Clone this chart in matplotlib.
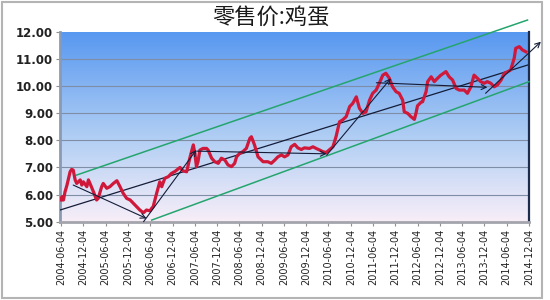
import matplotlib
matplotlib.use("Agg")
import matplotlib.pyplot as plt
import numpy as np
from matplotlib.colors import LinearSegmentedColormap
from matplotlib.patches import Rectangle

plt.rcParams['font.family'] = ['Noto Sans CJK SC', 'DejaVu Sans']

# months since 2004-06-04, retail egg price
month = [0.0, 0.21, 0.63, 1.05, 1.58, 2.42, 2.84, 3.26, 3.78, 4.2, 5.15, 5.57, 5.99, 6.93, 7.35, 7.77,
         8.72, 9.56, 9.98, 10.92, 11.34, 12.29, 13.13, 14.07, 15.02, 15.86, 16.7, 17.64, 18.59, 19.43,
         20.37, 21.21, 22.16, 23.0, 23.94, 24.36, 24.78, 25.73, 26.57, 27.09, 27.93, 28.88, 29.72, 30.66,
         32.03, 32.87, 33.81, 34.65, 35.6, 36.02, 36.44, 36.86, 37.38, 38.22, 39.17, 39.59, 40.53, 41.37,
         42.32, 43.16, 44.1, 44.94, 45.89, 46.73, 47.25, 48.09, 48.93, 49.88, 50.82, 51.24, 52.08, 53.03,
         54.39, 55.65, 56.6, 57.54, 58.38, 59.33, 60.17, 61.11, 61.95, 62.9, 63.74, 64.68, 65.52, 66.89,
         67.83, 68.67, 69.62, 70.46, 71.4, 73.19, 74.03, 74.97, 75.81, 76.76, 77.7, 78.54, 79.49, 80.33,
         81.27, 82.11, 83.06, 83.9, 84.84, 85.68, 86.63, 87.47, 88.41, 89.25, 90.2, 91.04, 91.98, 92.4,
         93.35, 94.19, 95.13, 95.55, 95.97, 96.92, 97.34, 98.28, 98.7, 99.65, 100.49, 101.33, 102.27, 103.64,
         104.48, 105.42, 106.37, 107.21, 108.57, 109.41, 110.36, 111.2, 112.14, 112.98, 113.93, 114.77,
         115.71, 116.63, 117.5, 118.49, 119.38, 120.3, 121.06, 122.01, 122.43, 123.38, 124.22, 125.16]
price = [5.80, 5.92, 5.80, 6.10, 6.35, 6.84, 6.93, 6.90, 6.54, 6.41, 6.54, 6.35, 6.47, 6.29, 6.54, 6.41,
         6.10, 5.80, 5.86, 6.29, 6.41, 6.23, 6.29, 6.41, 6.51, 6.29, 6.05, 5.86, 5.80, 5.68,
         5.55, 5.43, 5.33, 5.43, 5.40, 5.49, 5.55, 6.05, 6.47, 6.29, 6.60, 6.66, 6.78, 6.85,
         7.00, 6.87, 6.84, 7.34, 7.83, 7.52, 7.03, 7.21, 7.64, 7.70, 7.70, 7.64, 7.34, 7.21,
         7.15, 7.34, 7.27, 7.09, 7.03, 7.15, 7.39, 7.52, 7.58, 7.70, 8.07, 8.13, 7.83, 7.39,
         7.21, 7.21, 7.15, 7.27, 7.39, 7.46, 7.39, 7.46, 7.76, 7.85, 7.72, 7.66, 7.72, 7.70,
         7.76, 7.70, 7.64, 7.58, 7.55, 7.76, 8.13, 8.68, 8.75, 8.87, 9.24, 9.36, 9.60, 9.18,
         8.99, 9.05, 9.48, 9.73, 9.85, 10.10, 10.40, 10.47, 10.28, 9.97, 9.79, 9.73, 9.48, 9.05,
         8.99, 8.87, 8.77, 8.99, 9.27, 9.40, 9.42, 9.79, 10.16, 10.34, 10.16, 10.28, 10.40, 10.53,
         10.34, 10.22, 9.91, 9.85, 9.85, 9.73, 9.97, 10.40, 10.28, 10.16, 10.10, 10.16,
         10.10, 9.97, 10.04, 10.22, 10.47, 10.53, 10.59, 11.02, 11.39, 11.45, 11.33, 11.26]

tick_months = list(range(0, 127, 6))
tick_labels = ["2004-06-04", "2004-12-04", "2005-06-04", "2005-12-04", "2006-06-04",
               "2006-12-04", "2007-06-04", "2007-12-04", "2008-06-04", "2008-12-04",
               "2009-06-04", "2009-12-04", "2010-06-04", "2010-12-04", "2011-06-04",
               "2011-12-04", "2012-06-04", "2012-12-04", "2013-06-04", "2013-12-04",
               "2014-06-04", "2014-12-04"]

# trend lines: ((month, value), (month, value))
channel_upper = ((4.2, 6.72), (125.6, 12.43))
channel_lower = ((24.4, 5.06), (126.0, 10.16))
trend_main = ((-0.3, 5.43), (125.6, 10.77))
# arrows: start -> end (head at end)
arrows = [((3.26, 6.35), (23.0, 5.12)),
          ((22.2, 5.00), (36.4, 7.64)),
          ((36.5, 7.60), (71.5, 7.50)),
          ((71.5, 7.45), (88.8, 10.28)),
          ((84.9, 10.12), (114.8, 9.95)),
          ((114.3, 9.73), (129.2, 11.63))]

fig = plt.figure(figsize=(5.5, 3.0), dpi=100)
fig.patches.append(Rectangle((0.004, 0.008), 0.982, 0.985, transform=fig.transFigure,
                             fill=False, edgecolor='#b4b4b4', lw=1.5))
ax = fig.add_axes([60 / 550, 1 - 221.7 / 300, 469 / 550, 190 / 300])

# gradient background
cmap = LinearSegmentedColormap.from_list("bg", [(0, '#f8eef8'), (0.45, '#b0cef4'), (1, '#5898f0')])
grad = np.linspace(0, 1, 256).reshape(-1, 1)
ax.imshow(grad, cmap=cmap, aspect='auto', origin='lower', extent=[0, 1, 0, 1],
          transform=ax.transAxes, zorder=0)

ax.set_xlim(-0.3, 126)
ax.set_ylim(5, 12)
ax.set_yticks(range(5, 13))
ax.set_yticklabels(["%.2f" % v for v in range(5, 13)], fontsize=8.5, fontweight='bold',
                   family='DejaVu Sans', color='#222222')
ax.set_xticks(tick_months)
ax.set_xticklabels(tick_labels, rotation=90, fontsize=7, family='DejaVu Sans', color='#222222')
ax.tick_params(axis='both', length=3, color='#909090', width=0.8, pad=2)
for y in range(6, 12):
    ax.axhline(y, color='#7f8ea6', lw=0.8, zorder=1)

ax.spines['top'].set_visible(False)
ax.spines['left'].set_color('#8a9ab2')
ax.spines['left'].set_linewidth(2.0)
ax.spines['bottom'].set_color('#a4a4ac')
ax.spines['bottom'].set_linewidth(2.0)
ax.spines['right'].set_color('#1c2c4c')
ax.spines['right'].set_linewidth(1.6)

green = '#25a56e'
for (x0, y0), (x1, y1) in [channel_upper, channel_lower]:
    ax.plot([x0, x1], [y0, y1], color=green, lw=1.1, zorder=3, clip_on=False)
(x0, y0), (x1, y1) = trend_main
ax.plot([x0, x1], [y0, y1], color='#141c38', lw=0.9, zorder=3)

ax.plot(month, price, color='#d0183a', lw=2.3, zorder=4, solid_joinstyle='round')

for (x0, y0), (x1, y1) in arrows:
    ax.annotate("", xy=(x1, y1), xytext=(x0, y0), annotation_clip=False,
                arrowprops=dict(arrowstyle='->', color='#141c38', lw=0.8,
                                shrinkA=0, shrinkB=0, mutation_scale=9), zorder=5)

fig.text(0.493, 0.943, "零售价:鸡蛋", ha='center', va='center', fontsize=16, color='#1a1a1a')

fig.savefig("out.png", dpi=100)
